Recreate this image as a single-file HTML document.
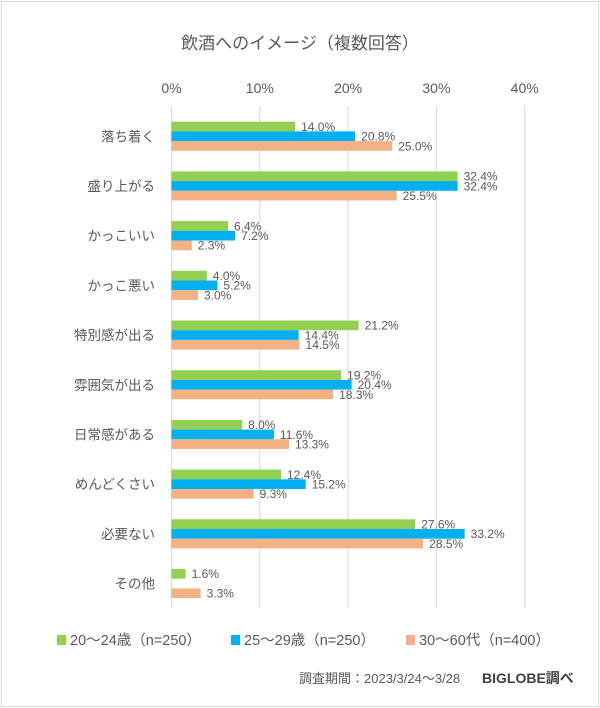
<!DOCTYPE html>
<html><head><meta charset="utf-8"><style>
body{margin:0;background:#fff;}
#wrap{position:relative;width:600px;height:708px;overflow:hidden;font-family:"Liberation Sans","Noto Sans CJK JP",sans-serif;}
#frame{position:absolute;left:1px;top:1px;width:596px;height:704px;border:1px solid #d9d9d9;}
</style></head><body>
<div id="wrap">
<div id="frame"></div>
<svg id="chart" width="600" height="708" style="position:absolute;left:0;top:0"></svg>
</div>
<script>
const categories=["落ち着く","盛り上がる","かっこいい","かっこ悪い","特別感が出る","雰囲気が出る","日常感がある","めんどくさい","必要ない","その他"];
const series1=[14.0,32.4,6.4,4.0,21.2,19.2,8.0,12.4,27.6,1.6];
const series2=[20.8,32.4,7.2,5.2,14.4,20.4,11.6,15.2,33.2,null];
const series3=[25.0,25.5,2.3,3.0,14.5,18.3,13.3,9.3,28.5,3.3];
const seriesNames=["20～24歳（n=250）","25～29歳（n=250）","30～60代（n=400）"];
const ticks=[0,10,20,30,40];
const colors=["#92d050","#00b0f0","#f4b183"];
const svg=document.getElementById('chart');
const NS="http://www.w3.org/2000/svg";
const x0=171.5, pxPer=8.83;
const xs=v=>x0+v*pxPer;
const groupTop=i=>121.7+i*49.7;
const bh=9.7;
function mk(tag,attrs,text){const e=document.createElementNS(NS,tag);for(const k in attrs)e.setAttribute(k,attrs[k]);if(text!=null)e.textContent=text;svg.appendChild(e);return e;}
let t=mk('text',{x:300,y:49,'text-anchor':'middle','font-size':17,fill:'#595959'},'飲酒へのイメージ（複数回答）');


ticks.forEach(v=>{
 let l=mk('line',{x1:xs(v),x2:xs(v),y1:106,y2:608,stroke:'#d9d9d9','stroke-width':1});
 
 
 let tt=mk('text',{x:xs(v),y:93,'text-anchor':'middle','font-size':14,fill:'#595959'},v+'%');
 
 
});
const all=[series1,series2,series3];
categories.forEach((c,i)=>{
 const top=groupTop(i);
 let lab=mk('text',{x:155,y:top+bh*1.5+5,'text-anchor':'end','font-size':13.5,fill:'#595959'},c);
 
 
 all.forEach((s,k)=>{
  const v=s[i]; if(v==null) return;
  const y=top+k*bh;
  let r=mk('rect',{x:x0,y:y,width:v*pxPer,height:bh,fill:colors[k]});
  
  
  let vl=mk('text',{x:xs(v)+6,y:y+bh-0.5,'font-size':12,fill:'#595959'},v.toFixed(1)+'%');
  
  
 });
});
const lx=[57,231,406];
seriesNames.forEach((n,k)=>{
 let r=mk('rect',{x:lx[k],y:635,width:9,height:10,fill:colors[k]});
 
 
 let tl=mk('text',{x:lx[k]+13,y:645,'font-size':14.5,fill:'#595959'},n);
 
 
});
let f=mk('text',{x:299,y:683,'font-size':13,fill:'#595959'},'調査期間：2023/3/24～3/28');


let b=mk('text',{x:482,y:683,'font-size':14,'font-weight':'bold',fill:'#404040'},'BIGLOBE調べ');


</script>
</body></html>
